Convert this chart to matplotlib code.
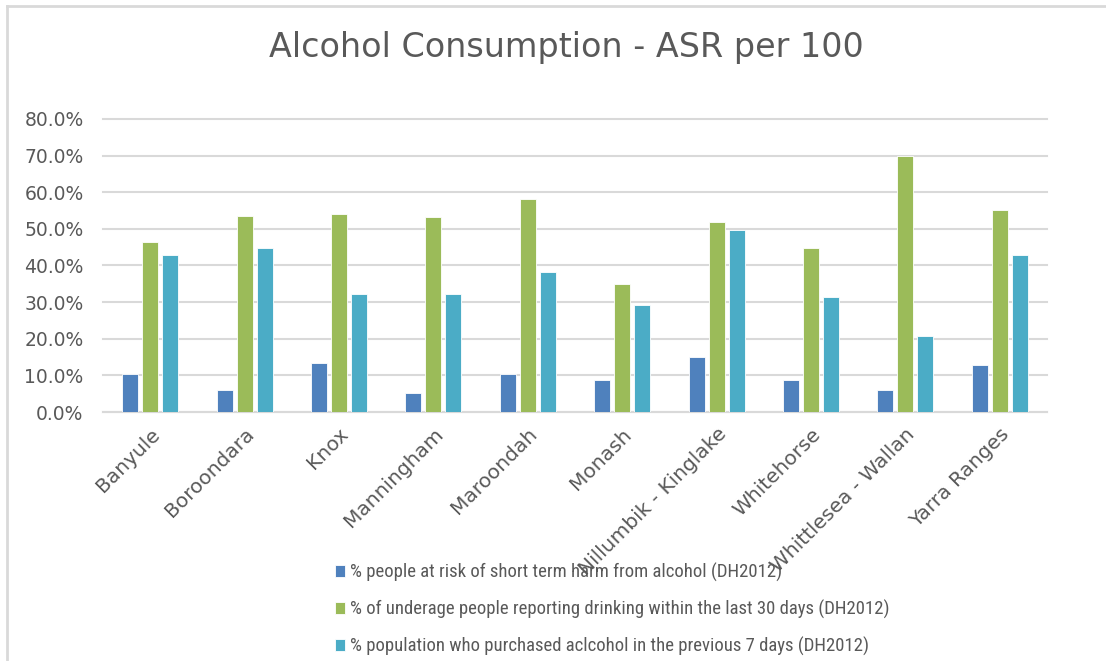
import numpy as np
import matplotlib
matplotlib.use('Agg')
import matplotlib.pyplot as plt
from matplotlib import font_manager
from matplotlib.lines import Line2D
from matplotlib.ticker import FuncFormatter

areas = ['Banyule', 'Boroondara', 'Knox', 'Manningham', 'Maroondah', 'Monash',
         'Nillumbik - Kinglake', 'Whitehorse', 'Whittlesea - Wallan', 'Yarra Ranges']
short_term_harm = [10.5, 6.0, 13.3, 5.1, 10.3, 8.8, 14.9, 8.8, 6.1, 12.8]
underage_drinking = [46.3, 53.5, 54.1, 53.3, 58.2, 34.9, 51.8, 44.7, 69.8, 55.1]
purchased_7days = [43.0, 44.7, 32.1, 32.1, 38.1, 29.3, 49.6, 31.5, 20.7, 43.0]
series_labels = ['% people at risk of short term harm from alcohol (DH2012)',
                 '% of underage people reporting drinking within the last 30 days (DH2012)',
                 '% population who purchased aclcohol in the previous 7 days (DH2012)']

colors = ['#4F81BD', '#9BBB59', '#4BACC6']
text_col = '#595959'
grid_col = '#D9D9D9'

plt.rcParams['font.family'] = ['DejaVu Sans']

# narrow face for the legend, if one is around
names = {f.name for f in font_manager.fontManager.ttflist}
narrow = None
for cand in ['Liberation Sans Narrow', 'Roboto Condensed', 'Open Sans Condensed',
             'DejaVu Sans Condensed', 'Noto Sans Condensed']:
    if cand in names:
        narrow = cand
        break
if narrow:
    leg_prop = {'family': [narrow], 'size': 13.5}
else:
    leg_prop = {'family': ['Roboto', 'DejaVu Sans'], 'size': 11.8, 'stretch': 'condensed'}

fig = plt.figure(figsize=(11.06, 6.61), dpi=100)
ax = fig.add_axes([0.0931, 0.3767, 0.8536, 0.4433])

x = np.arange(len(areas))
w = 0.17
step = 0.212
for i, vals in enumerate([short_term_harm, underage_drinking, purchased_7days]):
    ax.bar(x + (i - 1) * step, np.array(vals) / 100, width=w, color=colors[i],
           edgecolor='white', linewidth=0.6, label=series_labels[i], zorder=3)

ax.set_xlim(-0.5, len(areas) - 0.5)
ax.set_ylim(0, 0.8)
ax.set_yticks(np.arange(0, 0.81, 0.1))
ax.yaxis.set_major_formatter(FuncFormatter(lambda v, p: f'{v * 100:.1f}%'))
ax.grid(axis='y', color=grid_col, linewidth=1.5, zorder=0)
for gl in ax.get_ygridlines():
    gl.set_clip_on(False)
for s in ['top', 'right', 'left']:
    ax.spines[s].set_visible(False)
ax.spines['bottom'].set_color(grid_col)
ax.spines['bottom'].set_linewidth(1.5)
ax.tick_params(axis='both', length=0, colors=text_col)
ax.tick_params(axis='y', pad=14, labelsize=13.5)
ax.set_xticks(x)
ax.set_xticklabels(areas, rotation=45, ha='right', rotation_mode='anchor', fontsize=14.5)
ax.tick_params(axis='x', pad=9)

fig.text(0.512, 0.928, 'Alcohol Consumption - ASR per 100', ha='center', va='center',
         fontsize=24, color=text_col)

# chart frame (left and top edges)
fig.add_artist(Line2D([7 / 1106, 7 / 1106], [0, 1 - 6 / 661], transform=fig.transFigure,
                      color=grid_col, linewidth=2))
fig.add_artist(Line2D([7 / 1106, 1], [1 - 6 / 661, 1 - 6 / 661], transform=fig.transFigure,
                      color=grid_col, linewidth=2))

handles, labels = ax.get_legend_handles_labels()
leg = fig.legend(handles, labels, loc='upper left', bbox_to_anchor=(0.294, 0.163),
                 frameon=False, handlelength=0.55, handleheight=0.55, handletextpad=0.3,
                 labelspacing=0.95, borderpad=0, prop=leg_prop)
for t in leg.get_texts():
    t.set_color(text_col)

fig.savefig('out.png', dpi=100, facecolor='white')
